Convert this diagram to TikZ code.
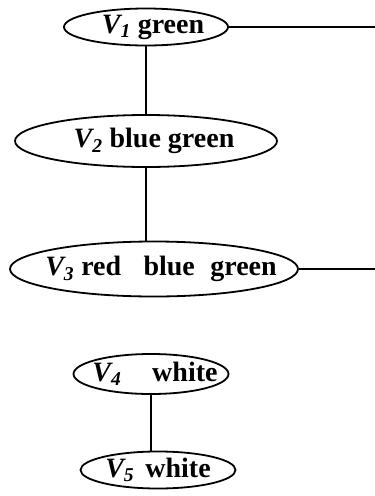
\documentclass[tikz,border=0pt]{standalone}
\usepackage{fontspec}
\setmainfont{Liberation Serif}
\usetikzlibrary{shapes.geometric}
\newcommand{\Vsub}[1]{{\itshape V}\textsubscript{\itshape #1}}
\begin{document}
\begin{tikzpicture}[x=1pt,y=-1pt,line width=1.8pt,
  vtx/.style={draw,ellipse,inner xsep=-90pt,inner ysep=-20pt,font=\fontsize{28}{30}\selectfont\bfseries},
  link/.style={line width=2.2pt}]
\useasboundingbox (0,0) rectangle (375,496);
\node[vtx,minimum width=164pt,minimum height=37pt] (v1) at (146,27) {\hspace{14pt}\Vsub{1} green};
\node[vtx,minimum width=262pt,minimum height=52pt] (v2) at (146,141) {\hspace{16pt}\Vsub{2} blue green};
\node[vtx,minimum width=288pt,minimum height=55pt] (v3) at (154,269) {\hspace{14pt}\Vsub{3} red\hspace{0.8em}blue\hspace{0.55em}green};
\node[vtx,minimum width=155pt,minimum height=40pt] (v4) at (151,374) {\hspace{8pt}\Vsub{4}\hspace{1.1em}white};
\node[vtx,minimum width=155pt,minimum height=37pt] (v5) at (158,470) {\Vsub{5}\hspace{0.4em}white};
\coordinate (e1) at (375,27);
\coordinate (e3) at (375,266);
\draw[link] (v1.south) -- (v1.south |- v2.north);
\draw[link] (v2.south) -- (v2.south |- v3.north);
\draw[link] (v4.south) -- (v4.south |- v5.north);
\draw[link] (v1.east) -- (v1.east -| e1);
\draw[link] (v3.east) -- (v3.east -| e3);
\end{tikzpicture}
\end{document}
